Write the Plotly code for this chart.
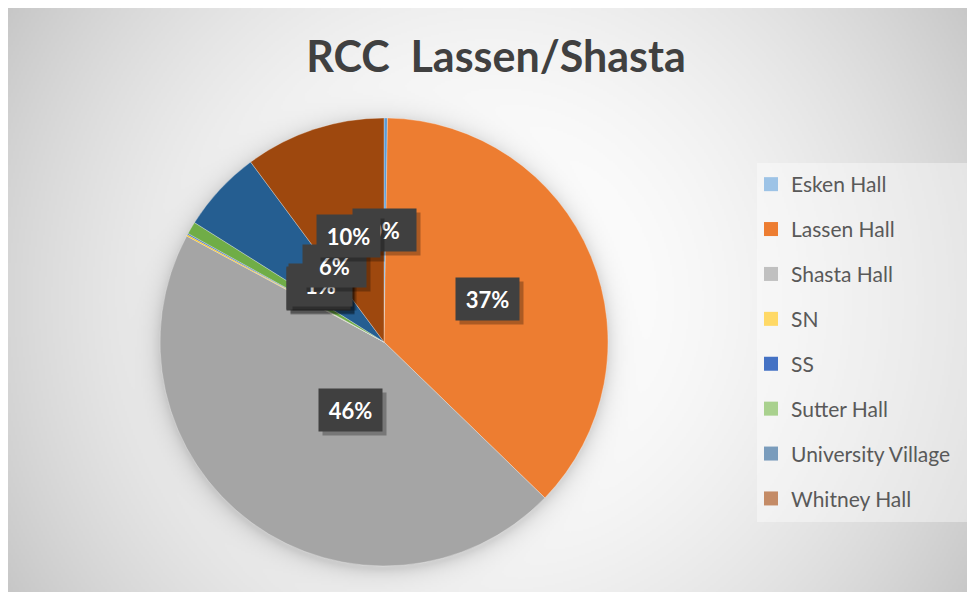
import base64, struct, zlib, math
import numpy as np
import plotly.graph_objects as go

# ---------------- data ----------------
categories = ["Esken Hall", "Lassen Hall", "Shasta Hall", "SN", "SS",
              "Sutter Hall", "University Village", "Whitney Hall"]
values = [0.25, 37.0, 45.6, 0.1, 0.1, 0.9, 5.9, 10.15]
slice_colors = ["#5B9BD5", "#ED7D31", "#A5A5A5", "#FFC000", "#4472C4",
                "#70AD47", "#255E91", "#9E480E"]
legend_colors = ["#9DC3E6", "#ED7D31", "#C0C0C0", "#FFD966", "#4472C4",
                 "#A9D18E", "#7A9CBC", "#C48B66"]
title_text = "RCC\u00a0 Lassen/Shasta"

W, H = 975, 592
# pie geometry (figure pixels) -> paper domain
PCX, PCY, PR = 376, 334, 224
dom_x = [(PCX - PR) / W, (PCX + PR) / W]
dom_y = [1 - (PCY + PR) / H, 1 - (PCY - PR) / H]

# ---------------- background gradient image ----------------
def png_gray(arr):
    h, w = arr.shape
    raw = b"".join(b"\x00" + arr[j].tobytes() for j in range(h))
    def chunk(t, d):
        c = struct.pack(">I", len(d)) + t + d
        return c + struct.pack(">I", zlib.crc32(t + d) & 0xffffffff)
    ihdr = struct.pack(">IIBBBBB", w, h, 8, 0, 0, 0, 0)
    return (b"\x89PNG\r\n\x1a\n" + chunk(b"IHDR", ihdr) +
            chunk(b"IDAT", zlib.compress(raw, 9)) + chunk(b"IEND", b""))

iw, ih = 488, 296
X = (np.arange(iw) + 0.5) * W / iw
Y = (np.arange(ih) + 0.5) * H / ih
XX, YY = np.meshgrid(X, Y)
d = np.hypot(XX - 483, YY - 292) / 565.0
g = 255 - 56 * d ** 2
ds = np.hypot(XX - PCX, YY - (PCY + 3)) - PR
shadow = 34 * np.exp(-np.clip(ds, 0, None) / 9.0)
g = g - shadow
img = np.clip(g, 0, 255).astype(np.uint8)
bg_uri = "data:image/png;base64," + base64.b64encode(png_gray(img)).decode()

# ---------------- figure ----------------
fig = go.Figure()
fig.add_trace(go.Pie(
    labels=categories, values=values, sort=False, direction="clockwise",
    rotation=0, marker=dict(colors=slice_colors, line=dict(color="rgba(255,255,255,0.6)", width=0.5)),
    textinfo="none", hoverinfo="label+percent", showlegend=False,
    domain=dict(x=dom_x, y=dom_y),
))

for i, (n, c) in enumerate(zip(categories, legend_colors)):
    fig.add_trace(go.Scatter(
        x=[None], y=[None], mode="markers", name=n, legendgroup=n,
        marker=dict(symbol="square", size=14, color=c, line=dict(width=0)),
        hoverinfo="skip",
    ))

# data labels at half radius of mid-angle
total = sum(values)
R_px = min((dom_x[1] - dom_x[0]) * W, (dom_y[1] - dom_y[0]) * H) / 2
cx = (dom_x[0] + dom_x[1]) / 2
cy = (dom_y[0] + dom_y[1]) / 2
annotations = []
cum = 0.0
for v in values:
    frac = v / total
    mid = (cum + frac / 2) * 2 * math.pi
    cum += frac
    ax = cx + 0.5 * R_px * math.sin(mid) / W
    ay = cy + 0.5 * R_px * math.cos(mid) / H
    txt = "%d%%" % int(round(frac * 100))
    # shadow box
    annotations.append(dict(
        x=ax, y=ay, xref="paper", yref="paper", text=txt, showarrow=False,
        xshift=4, yshift=-4, width=59, height=38, borderpad=2,
        bgcolor="rgba(0,0,0,0.28)", font=dict(color="rgba(0,0,0,0)", size=22,
                                              family="Lato", weight="bold")))
    annotations.append(dict(
        x=ax, y=ay, xref="paper", yref="paper", text="<b>%s</b>" % txt,
        showarrow=False, width=59, height=38, borderpad=2,
        bgcolor="#404040", font=dict(color="white", size=22, family="Lato")))

fig.update_layout(
    width=W, height=H,
    margin=dict(l=0, r=0, t=0, b=0),
    paper_bgcolor="white", plot_bgcolor="rgba(0,0,0,0)",
    xaxis=dict(visible=False), yaxis=dict(visible=False),
    title=dict(text="<b>%s</b>" % title_text, x=488 / W, xanchor="center",
               y=1 - 49 / H, yanchor="middle", yref="container",
               font=dict(family="Lato", size=43, color="#404040")),
    legend=dict(x=743 / W, xanchor="left", y=1 - 156 / H, yanchor="top",
                bgcolor="rgba(0,0,0,0)", font=dict(family="Lato", size=21, color="#595959"),
                tracegroupgap=14.6, itemclick=False),
    images=[dict(source=bg_uri, xref="paper", yref="paper", x=0, y=1,
                 sizex=1, sizey=1, sizing="stretch", layer="below",
                 xanchor="left", yanchor="top")],
    shapes=[
        dict(type="rect", xref="paper", yref="paper", x0=749 / W, x1=961 / W,
             y0=1 - 514 / H, y1=1 - 155 / H, fillcolor="rgba(255,255,255,0.4)",
             line=dict(width=0), layer="below"),
    ],
    annotations=annotations,
)

fig.write_html("out.html")
